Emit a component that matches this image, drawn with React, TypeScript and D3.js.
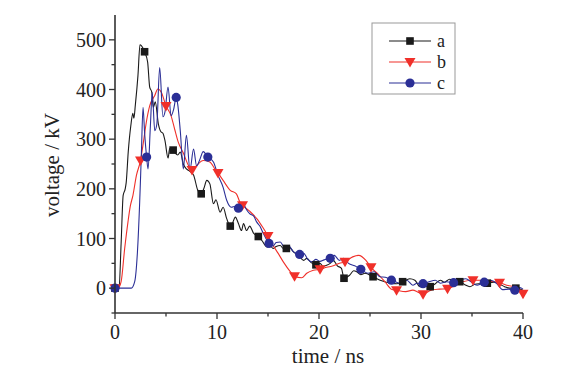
import React from "react";
import * as d3 from "d3";

type P = [number, number];

const seriesA: P[] = [[0,0],[0.4,2],[0.6,90],[0.8,187],[1.0,200],[1.1,213],[1.3,275],[1.55,327],[1.75,352],[1.85,342],[2.0,370],[2.25,428],[2.45,490],[2.6,488],[2.9,476],[3.2,455],[3.4,405],[3.6,395],[3.76,364],[3.95,375],[4.25,331],[4.5,315],[4.7,312],[4.9,297],[5.2,262],[5.36,281],[5.7,278],[5.9,272],[6.15,268],[6.4,274],[6.7,250],[7.0,240],[7.3,236],[7.7,228],[8.1,198],[8.45,190],[8.7,200],[9.0,217],[9.3,210],[9.65,170],[9.9,178],[10.3,153],[10.6,163],[10.95,140],[11.3,125],[11.5,130],[11.8,143],[12.1,130],[12.4,116],[12.6,130],[12.9,116],[13.2,125],[13.6,110],[14.05,104],[14.4,96],[14.9,83],[15.2,86],[15.5,80],[15.8,84],[16.2,86],[16.5,80],[16.8,80],[17.1,82],[17.5,73],[18.0,66],[18.5,56],[18.8,60],[19.2,52],[19.7,47],[20.1,50],[20.4,44],[20.75,46],[21.1,50],[21.4,56],[21.8,45],[22.2,40],[22.45,20],[23.0,26],[23.4,35],[23.7,33],[24.1,27],[24.5,30],[25.3,23],[26.0,16],[26.6,12],[27.1,10],[27.6,9],[28.2,13],[28.9,19],[29.4,16],[29.9,3],[30.4,4],[30.9,3],[31.4,9],[31.9,16],[32.3,12],[32.8,18],[33.3,14],[33.8,13],[34.3,7],[34.8,3],[35.3,8],[35.8,9],[36.5,10],[37.1,12],[37.7,8],[38.2,3],[38.7,0],[39.3,0],[40,-4]];
const markersA: P[] = [[0,0],[2.9,476],[5.7,278],[8.45,190],[11.3,125],[14.05,104],[16.8,80],[19.7,47],[22.45,20],[25.3,23],[28.2,13],[30.9,3],[33.8,13],[36.5,10],[39.3,0]];

const seriesB: P[] = [[0,0],[0.3,0],[0.6,13],[0.95,80],[1.27,133],[1.5,165],[1.76,187],[2.1,227],[2.5,257],[2.8,296],[3.07,334],[3.4,367],[3.9,388],[4.2,401],[4.55,394],[5.0,367],[5.5,347],[5.85,320],[6.2,294],[6.7,272],[7.2,247],[7.55,238],[8.0,247],[8.65,257],[9.3,254],[9.8,240],[10.1,232],[10.6,217],[11.3,197],[11.9,190],[12.25,173],[12.5,167],[13.2,155],[13.9,140],[14.5,122],[15.0,105],[15.5,86],[16.0,70],[16.5,53],[17.2,33],[17.6,24],[18.3,21],[18.8,30],[19.45,36],[20.1,38],[20.75,42],[21.4,45],[22.0,50],[22.55,53],[23.3,63],[23.9,66],[24.6,56],[25.1,42],[25.9,26],[26.5,12],[27.1,-2],[27.6,-4],[28.5,-7],[29.2,-4],[29.7,-8],[30.2,-12],[31.0,-4],[31.8,-2],[32.6,-1],[33.4,6],[34.1,13],[35.1,16],[36.1,16],[36.8,14],[37.7,11],[38.4,6],[39.4,1],[40,-11]];
const markersB: P[] = [[0,0],[2.5,257],[5.0,367],[7.55,238],[10.1,232],[12.5,167],[15.0,105],[17.6,24],[20.1,38],[22.55,53],[25.1,42],[27.6,-4],[30.2,-12],[32.6,-1],[35.1,16],[37.7,11],[40,-11]];

const seriesC: P[] = [[0,0],[1.6,0],[1.93,13],[2.2,73],[2.42,173],[2.58,267],[2.75,364],[2.9,314],[3.1,264],[3.24,240],[3.47,327],[3.65,394],[3.9,317],[4.1,330],[4.38,444],[4.7,345],[4.9,355],[5.2,405],[5.5,347],[5.75,360],[6.0,384],[6.15,370],[6.4,317],[6.7,240],[7.0,308],[7.35,238],[7.7,280],[8.0,246],[8.3,258],[8.65,275],[9.1,264],[9.65,254],[10.1,227],[10.6,203],[10.95,177],[11.4,163],[11.8,165],[12.1,161],[12.5,172],[12.9,158],[13.2,150],[13.6,145],[13.9,133],[14.2,125],[14.55,110],[15.1,90],[15.5,85],[15.8,92],[16.2,93],[16.6,83],[17.0,86],[17.5,73],[18.1,68],[18.5,70],[18.9,58],[19.3,53],[19.7,58],[20.1,54],[20.5,57],[21.1,60],[21.5,66],[22.0,56],[22.4,60],[22.9,50],[23.5,45],[24.1,38],[24.8,30],[25.4,33],[26.0,23],[26.5,22],[27.1,16],[27.6,12],[28.0,9],[28.6,16],[29.2,6],[29.6,10],[30.2,9],[30.8,13],[31.4,16],[31.9,10],[32.5,13],[33.2,11],[33.8,16],[34.4,19],[34.9,13],[35.5,6],[36.2,12],[36.8,16],[37.4,10],[38.0,-3],[38.6,-2],[39.2,-4],[39.7,1],[40,-2]];
const markersC: P[] = [[0,0],[3.1,264],[6.0,384],[9.1,264],[12.1,161],[15.1,90],[18.1,68],[21.1,60],[24.1,38],[27.1,16],[30.2,9],[33.2,11],[36.2,12],[39.2,-4]];

const xMajor = [0, 10, 20, 30, 40];
const xMinor = [5, 15, 25, 35];
const yMajor = [0, 100, 200, 300, 400, 500];
const yMinor = [-50, 50, 150, 250, 350, 450];
const legendLabels = ["a", "b", "c"];

const COLORS = ["#1a1a1a", "#f0302a", "#2b2f96"];
const FONT = "'Liberation Serif', 'Times New Roman', serif";

export default function App() {
  const x = d3.scaleLinear().domain([0, 40]).range([115, 523]);
  const y = d3.scaleLinear().domain([-50, 550]).range([313, 15]);
  const line = d3.line<P>().x(d => x(d[0])).y(d => y(d[1])).curve(d3.curveMonotoneX);
  const axisColor = "#333";

  const marker = (kind: number, cx: number, cy: number, key: string) => {
    const c = COLORS[kind];
    if (kind === 0) return <rect key={key} x={cx - 3.8} y={cy - 3.8} width={7.6} height={7.6} fill={c} />;
    if (kind === 1) return <path key={key} d={`M${cx - 5.5},${cy - 4} L${cx + 5.5},${cy - 4} L${cx},${cy + 5.5} Z`} fill={c} />;
    return <circle key={key} cx={cx} cy={cy} r={4.6} fill={c} />;
  };

  const series = [seriesA, seriesB, seriesC];
  const markers = [markersA, markersB, markersC];

  return (
    <svg width={584} height={375} style={{ position: "absolute", left: 0, top: 0, background: "#fff" }} fontFamily={FONT}>
      <rect width={584} height={375} fill="#fff" />
      {series.map((s, i) => (
        <path key={"l" + i} d={line(s) || ""} fill="none" stroke={COLORS[i]} strokeWidth={1.1} />
      ))}
      {markers.map((m, i) => m.map((p, j) => marker(i, x(p[0]), y(p[1]), `m${i}-${j}`)))}

      {/* axes */}
      <line x1={x(0)} x2={x(0)} y1={y(550)} y2={y(-50)} stroke={axisColor} strokeWidth={1.6} />
      <line x1={x(0)} x2={x(40)} y1={y(-50)} y2={y(-50)} stroke={axisColor} strokeWidth={1.6} />
      {yMajor.map(v => (
        <g key={"ym" + v}>
          <line x1={x(0) - 6} x2={x(0)} y1={y(v)} y2={y(v)} stroke={axisColor} strokeWidth={1.3} />
          <text x={x(0) - 9} y={y(v)} dy="0.35em" textAnchor="end" fontSize={20} fill="#222">{v}</text>
        </g>
      ))}
      {yMinor.map(v => (
        <line key={"yn" + v} x1={x(0) - 3.5} x2={x(0)} y1={y(v)} y2={y(v)} stroke={axisColor} strokeWidth={1.3} />
      ))}
      {xMajor.map(v => (
        <g key={"xm" + v}>
          <line x1={x(v)} x2={x(v)} y1={y(-50)} y2={y(-50) + 6} stroke={axisColor} strokeWidth={1.3} />
          <text x={x(v)} y={339} textAnchor="middle" fontSize={20} fill="#222">{v}</text>
        </g>
      ))}
      {xMinor.map(v => (
        <line key={"xn" + v} x1={x(v)} x2={x(v)} y1={y(-50)} y2={y(-50) + 3.5} stroke={axisColor} strokeWidth={1.3} />
      ))}
      <text x={328} y={363} textAnchor="middle" fontSize={21} fill="#222">time / ns</text>
      <text transform="translate(59,165) rotate(-90)" textAnchor="middle" fontSize={21} fill="#222">voltage / kV</text>

      {/* legend */}
      <rect x={372} y={23} width={83} height={71} fill="#fff" stroke="#999" strokeWidth={1} />
      {legendLabels.map((lab, i) => {
        const ly = 41 + i * 21;
        return (
          <g key={"lg" + i}>
            <line x1={389} x2={431} y1={ly} y2={ly} stroke={COLORS[i]} strokeWidth={1.1} />
            {marker(i, 410, ly, "lm" + i)}
            <text x={437} y={ly} dy="0.32em" fontSize={18} fill="#222">{lab}</text>
          </g>
        );
      })}
    </svg>
  );
}
